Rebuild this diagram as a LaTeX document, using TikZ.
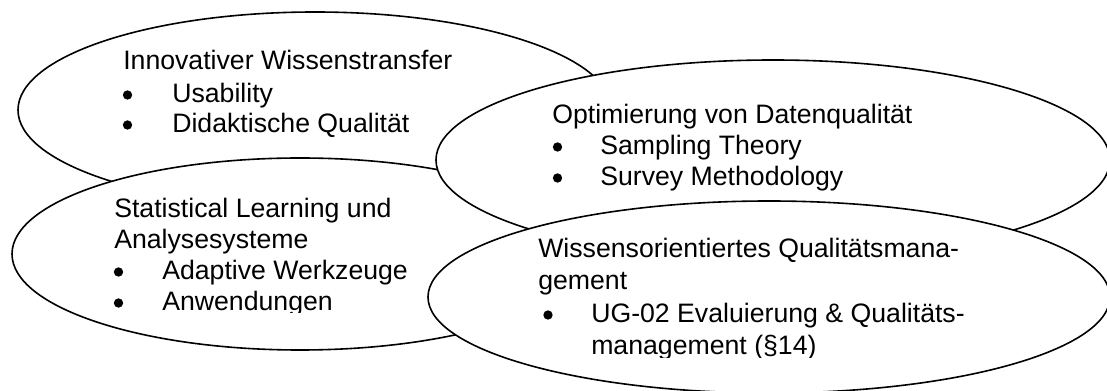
\documentclass[tikz,border=0pt]{standalone}
\usepackage{fontspec}
\setmainfont{Liberation Sans}
\usetikzlibrary{shapes.geometric}

\tikzset{
  blob/.style={ellipse, draw=black, fill=white, line width=1.2pt, inner sep=0pt},
  txt/.style={anchor=base west, inner sep=0pt, font=\fontsize{20}{23.5}\selectfont},
  dot/.style={circle, fill=black, inner sep=0pt, minimum size=7pt},
}

\begin{document}
\begin{tikzpicture}[x=0.75pt,y=-0.75pt]
\useasboundingbox (0,0) rectangle (1107,391);

% Innovativer Wissenstransfer
\node[blob, minimum width=445.5pt, minimum height=147pt] (innov) at (315,110) {};
\node[txt] (innovT) at (123,70) {Innovativer Wissenstransfer};
\node[dot] (innovB1) at (127.5,95) {};
\node[txt] (innovI1) at (172,103) {Usability};
\node[dot] (innovB2) at (127.5,125) {};
\node[txt] (innovI2) at (172,133) {Didaktische Qualität};

% Statistical Learning und Analysesysteme
\node[blob, minimum width=432pt, minimum height=144pt] (stat) at (300,254) {};
\begin{scope}
  \clip (0,0) rectangle (1107,313);
  \node[txt] (statT1) at (114,218) {Statistical Learning und};
  \node[txt] (statT2) at (114,249) {Analysesysteme};
  \node[dot] (statB1) at (118.5,272) {};
  \node[txt] (statI1) at (162,280) {Adaptive Werkzeuge};
  \node[dot] (statB2) at (118.5,303) {};
  \node[txt] (statI2) at (162,311) {Anwendungen};
\end{scope}

% Optimierung von Datenqualitaet
\node[blob, minimum width=505.5pt, minimum height=150pt] (opt) at (773,160) {};
\node[txt] (optT) at (552,124) {Optimierung von Datenqualität};
\node[dot] (optB1) at (557.5,147) {};
\node[txt] (optI1) at (600,155) {Sampling Theory};
\node[dot] (optB2) at (557.5,178) {};
\node[txt] (optI2) at (600,186) {Survey Methodology};

% Wissensorientiertes Qualitaetsmanagement
\node[blob, minimum width=511.5pt, minimum height=144pt] (qm) at (769,297) {};
\begin{scope}
  \clip (0,0) rectangle (1107,358);
  \node[txt] (qmT1) at (538,258) {Wissensorientiertes Qualitätsmana-};
  \node[txt] (qmT2) at (538,290) {gement};
  \node[dot] (qmB1) at (548,315) {};
  \node[txt] (qmI1) at (591,323) {UG-02 Evaluierung \& Qualitäts-};
  \node[txt] (qmI2) at (591,355) {management (§14)};
\end{scope}
\end{tikzpicture}
\end{document}
